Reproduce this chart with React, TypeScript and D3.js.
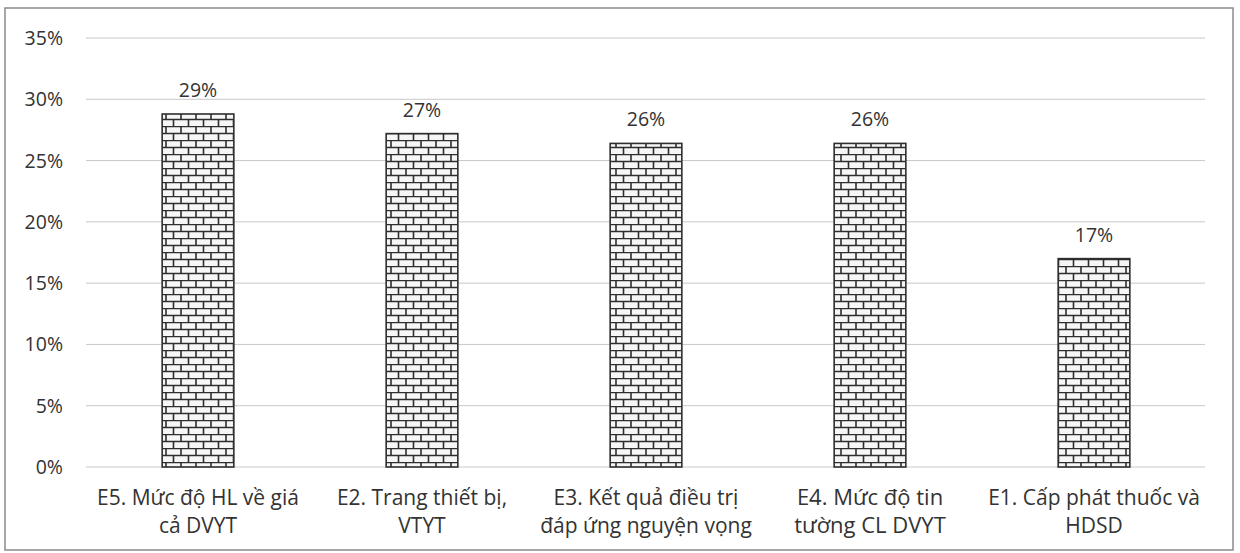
import React from "react";
import * as d3 from "d3";

// Survey satisfaction shares by criterion group
const categories = ["E5", "E2", "E3", "E4", "E1"];
const labelLines = [
  ["E5. Mức độ HL về giá", "cả DVYT"],
  ["E2. Trang thiết bị,", "VTYT"],
  ["E3. Kết quả điều trị", "đáp ứng nguyện vọng"],
  ["E4. Mức độ tin", "tường CL DVYT"],
  ["E1. Cấp phát thuốc và", "HDSD"],
];
const values = [0.288, 0.272, 0.264, 0.264, 0.17];
const yTicks = [0, 0.05, 0.1, 0.15, 0.2, 0.25, 0.3, 0.35];

const W = 1240;
const H = 553;
const FONT = "'Open Sans', Lato, sans-serif";
const TEXT = "#333";

export default function App() {
  const x = d3
    .scaleBand<string>()
    .domain(categories)
    .range([86, 1206])
    .paddingInner(0.68)
    .paddingOuter(0.34);
  const y = d3.scaleLinear().domain([0, 0.35]).range([467, 38]);
  const pct = d3.format(".0%");

  return (
    <svg
      width={W}
      height={H}
      style={{ position: "absolute", left: 0, top: 0, background: "#fff" }}
    >
      <defs>
        <pattern id="brick" width={15} height={14} patternUnits="userSpaceOnUse">
          <rect width={15} height={14} fill="#f6f6f6" />
          <path
            d="M0 0.5H15M0 7.5H15M1 0.5V7.5M8.5 7.5V14"
            stroke="#2e2e2e"
            strokeWidth={1.6}
            fill="none"
          />
        </pattern>
      </defs>

      {/* frame */}
      <rect
        x={5}
        y={8}
        width={1228}
        height={542}
        fill="#fff"
        stroke="#8a8a8a"
        strokeWidth={1.5}
      />

      {/* grid + y ticks */}
      {yTicks.map((t) => (
        <g key={t}>
          <line
            x1={86}
            x2={1205}
            y1={y(t)}
            y2={y(t)}
            stroke="#c8c8c8"
            strokeWidth={1}
          />
          <text
            x={63}
            y={y(t)}
            dy="0.36em"
            textAnchor="end"
            fontFamily={FONT}
            fontSize={19.5}
            fill={TEXT}
          >
            {pct(t)}
          </text>
        </g>
      ))}

      {/* bars */}
      {categories.map((c, i) => {
        const bx = x(c)!;
        const by = y(values[i]);
        return (
          <g key={c}>
            <rect
              x={bx}
              y={by}
              width={x.bandwidth()}
              height={y(0) - by}
              fill="url(#brick)"
              stroke="#2e2e2e"
              strokeWidth={1.6}
            />
            <text
              x={bx + x.bandwidth() / 2}
              y={by - 17}
              textAnchor="middle"
              fontFamily={FONT}
              fontSize={19.5}
              fill={TEXT}
            >
              {pct(values[i])}
            </text>
          </g>
        );
      })}

      {/* category labels */}
      {categories.map((c, i) => (
        <text
          key={c}
          textAnchor="middle"
          fontFamily={FONT}
          fontSize={c === "E4" ? 22 : 21}
          fill={TEXT}
        >
          {labelLines[i].map((ln, j) => (
            <tspan key={j} x={x(c)! + x.bandwidth() / 2} y={505 + j * 28}>
              {ln}
            </tspan>
          ))}
        </text>
      ))}
    </svg>
  );
}
